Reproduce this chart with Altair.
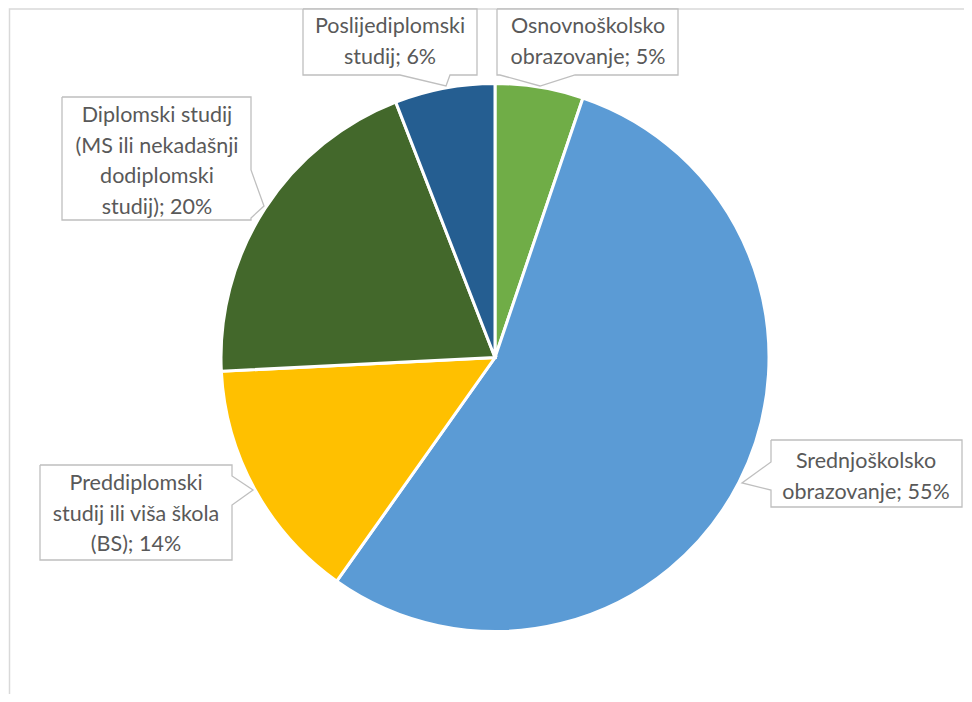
import altair as alt
import pandas as pd

# ---- data ----
categories = [
    "Osnovnoškolsko obrazovanje",
    "Srednjoškolsko obrazovanje",
    "Preddiplomski studij ili viša škola (BS)",
    "Diplomski studij (MS ili nekadašnji dodiplomski studij)",
    "Poslijediplomski studij",
]
values = [5.2, 54.6, 14.4, 19.9, 5.9]
colors = ["#70AD47", "#5B9BD5", "#FFC000", "#43682B", "#255E91"]
label_lines = [
    ["Osnovnoškolsko", "obrazovanje; {p}%"],
    ["Srednjoškolsko", "obrazovanje; {p}%"],
    ["Preddiplomski", "studij ili viša škola", "(BS); {p}%"],
    ["Diplomski studij", "(MS ili nekadašnji", "dodiplomski", "studij); {p}%"],
    ["Poslijediplomski", "studij; {p}%"],
]

# ---- layout (page pixel coordinates) ----
OFF = 8
W, H = 956, 686
CX, CY, R = 495, 357.5, 274
# callout outlines (box with wedge), page coords
callouts = [
    [(497, 9), (678, 9), (678, 75), (575, 75), (540, 86), (500, 75), (497, 75), (497, 9)],
    [(771, 440), (962, 440), (962, 507), (771, 507), (771, 490), (742, 483), (771, 462), (771, 440)],
    [(40, 465), (232, 465), (232, 476), (253, 490), (232, 505), (232, 560), (40, 560), (40, 465)],
    [(62, 97), (251, 97), (251, 170), (264, 206), (251, 218), (251, 220), (62, 220), (62, 97)],
    [(303, 9), (477, 9), (477, 75), (450, 75), (446, 86), (400, 75), (303, 75), (303, 9)],
]
text_anchor = [(588, 27), (866, 462), (136, 484), (157, 116), (390, 27)]
LINE_H = 30.7

pie_df = pd.DataFrame({
    "category": categories,
    "value": values,
    "order": list(range(len(categories))),
})

pie = alt.Chart(pie_df).mark_arc(
    radius=R, stroke="white", strokeWidth=3
).encode(
    theta=alt.Theta("value:Q", stack=True),
    order=alt.Order("order:Q"),
    color=alt.Color("category:N", scale=alt.Scale(domain=categories, range=colors), legend=None),
    x=alt.value(CX - OFF),
    y=alt.value(CY - OFF),
)

poly_rows = []
for i, pts in enumerate(callouts):
    for j, (px, py) in enumerate(pts):
        poly_rows.append({"cid": i, "k": j, "px": px - OFF, "py": py - OFF})
poly_df = pd.DataFrame(poly_rows)

boxes = alt.Chart(poly_df).mark_line(
    stroke="#BFBFBF", strokeWidth=1.3, fill="white", strokeJoin="miter"
).encode(
    x=alt.X("px:Q", scale=None),
    y=alt.Y("py:Q", scale=None),
    detail="cid:N",
    order="k:Q",
)

text_rows = []
for i, lines in enumerate(label_lines):
    p = round(values[i])
    ax, ay = text_anchor[i]
    for j, ln in enumerate(lines):
        text_rows.append({"t": ln.format(p=p), "tx": ax - OFF, "ty": ay - OFF + j * LINE_H})
text_df = pd.DataFrame(text_rows)

texts = alt.Chart(text_df).mark_text(
    font="Lato", fontSize=21.5, color="#595959", align="center", baseline="middle"
).encode(
    x=alt.X("tx:Q", scale=None),
    y=alt.Y("ty:Q", scale=None),
    text="t:N",
)

border_df = pd.DataFrame({"bx": [1.5, 1.5, W], "by": [H, 1, 1], "k": [0, 1, 2]})
border = alt.Chart(border_df).mark_line(stroke="#D9D9D9", strokeWidth=1.5).encode(
    x=alt.X("bx:Q", scale=None),
    y=alt.Y("by:Q", scale=None),
    order="k:Q",
)

chart = alt.layer(border, pie, boxes, texts).properties(
    width=W, height=H, padding=0, autosize=alt.AutoSizeParams(type="none")
).configure_view(stroke=None)

chart.save("out.html", embed_options={"renderer": "svg", "actions": False})
